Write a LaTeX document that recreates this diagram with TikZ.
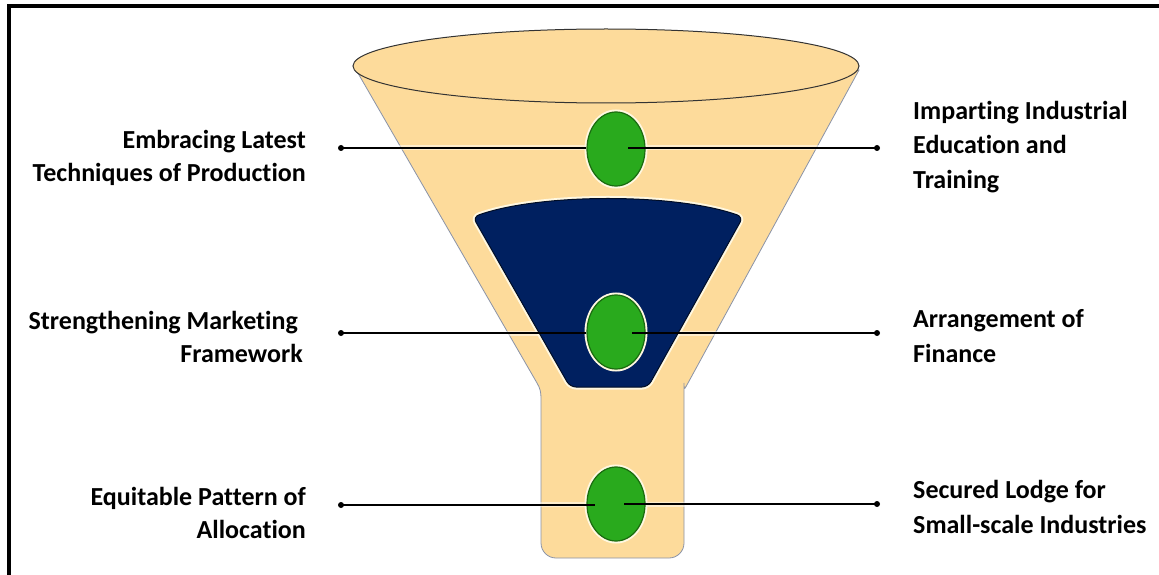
\documentclass[tikz,border=0pt]{standalone}
\usepackage{fontspec}
\setmainfont{Carlito}[Ligatures=NoCommon]
\usetikzlibrary{shapes.geometric}
\definecolor{funnel}{HTML}{FDDB9B}
\definecolor{navy}{HTML}{002060}
\definecolor{gfill}{HTML}{29AA1D}
\definecolor{gdraw}{HTML}{1A6B10}
\definecolor{glow}{HTML}{FFF8E1}
\definecolor{edge}{HTML}{8A93A8}
\begin{document}
\begin{tikzpicture}[x=1pt,y=-1pt,
  lbll/.style={font=\fontsize{26}{32.5}\selectfont\bfseries, inner sep=0pt, align=right},
  lblr/.style={font=\fontsize{26}{34.5}\selectfont\bfseries, inner sep=0pt, align=left},
  gball/.style={ellipse, minimum width=58, minimum height=74, inner sep=0pt,
    fill=gfill, draw=gdraw, line width=1.2pt, preaction={draw=glow, line width=5pt}},
  dotn/.style={circle, fill=black, inner sep=0pt, minimum size=6},
  conn/.style={draw=black, line width=2pt},
  connglow/.style={draw=white, line width=5pt, opacity=0.5}]
\useasboundingbox (0,0) rectangle (1159,575);
\fill[white] (0,0) rectangle (1159,575);
% frame (top and left edges)
\fill[black] (7,4) rectangle (1159,8);
\fill[black] (7,4) rectangle (11,575);
% funnel body
\path[fill=funnel, draw=edge, line width=0.8pt]
  (355,68) -- (537,383) .. controls (540,388) and (541,392) .. (541,398)
  [rounded corners=15] -- (541,558) -- (684,558) -- (684,398) [sharp corners]
  .. controls (684,392) and (685,388) .. (688,383) -- (859,70) -- cycle;
% top rim
\path[fill=funnel, draw=black!80, line width=1pt] (606,66) ellipse [x radius=253, y radius=37];
% connector glows
\coordinate (c1l) at (341,148);
\coordinate (c2l) at (341,333);
\coordinate (c3l) at (341,505);
\coordinate (c1r) at (877,148);
\coordinate (c2r) at (877,333);
\coordinate (c3r) at (877,504);
\draw[connglow] (c1l) -- (c1r);
\draw[connglow] (c2l) -- (c2r);
\draw[connglow] (c3l) -- (c3r);
% navy inner funnel
\path[fill=navy, draw=glow, line width=5pt, rounded corners=6]
  (473,217) .. controls (540,193) and (676,193) .. (743,217) -- (648,387) -- (570,387) -- cycle;
\path[fill=navy, draw=black!60!navy, line width=1pt, rounded corners=6]
  (473,217) .. controls (540,193) and (676,193) .. (743,217) -- (648,387) -- (570,387) -- cycle;
% green markers
\node[gball] (g1) at (616,149) {};
\node[gball] (g2) at (616,332) {};
\node[gball] (g3) at (616,504) {};
% dots
\node[dotn] (dl1) at (c1l) {};
\node[dotn] (dl2) at (c2l) {};
\node[dotn] (dl3) at (c3l) {};
\node[dotn] (dr1) at (c1r) {};
\node[dotn] (dr2) at (c2r) {};
\node[dotn] (dr3) at (c3r) {};
% connector ends inside markers
\coordinate (g1in) at (628,148);
\coordinate (g2in) at (632,333);
\coordinate (g3l) at (595,505);
\coordinate (g3in) at (624,504);
% connectors
\draw[conn] (dl1.center) -- (dl1.center -| g1.west);
\draw[conn] (g1in) -- (dr1.center);
\draw[conn] (dl2.center) -- (dl2.center -| g2.west);
\draw[conn] (g2in) -- (dr2.center);
\draw[conn] (dl3.center) -- (g3l);
\draw[conn] (g3in) -- (dr3.center);
% labels
\node[lbll, anchor=base east] (t1) at (306,181) {Embracing Latest\\Techniques of Production};
\node[lbll, anchor=base east] (t2) at (303,362) {Strengthening Marketing\hspace*{5pt}\\Framework};
\node[lbll, anchor=base east] (t3) at (306,538) {Equitable Pattern of\\Allocation};
\node[lblr, anchor=base west] (t4) at (913,188) {Imparting Industrial\\Education and\\Training};
\node[lblr, anchor=base west] (t5) at (913,362) {Arrangement of\\Finance};
\node[lblr, anchor=base west] (t6) at (913,533) {Secured Lodge for\\Small-scale Industries};
\end{tikzpicture}
\end{document}
